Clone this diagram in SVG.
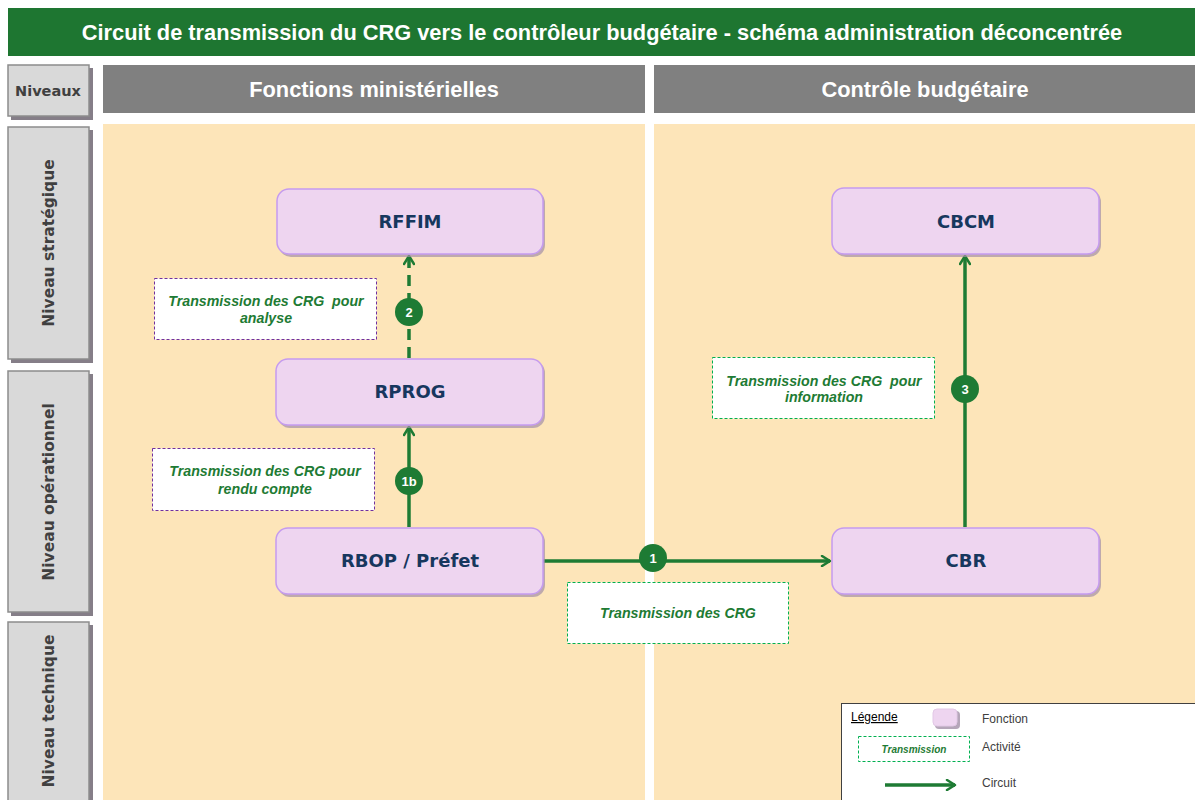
<svg xmlns="http://www.w3.org/2000/svg" width="1195" height="800" viewBox="0 0 1195 800">
  <style>
    .title { font-family: "Liberation Sans", Arial, sans-serif; font-weight: bold; font-size: 21.8px; fill: #ffffff; }
    .head { font-family: "Liberation Sans", Arial, sans-serif; font-weight: bold; font-size: 21.8px; fill: #ffffff; }
    .lvl { font-family: "DejaVu Sans", Verdana, sans-serif; font-weight: bold; font-size: 15.5px; fill: #404040; }
    .lvlbox { fill: #d9d9d9; stroke: #8c8c8c; stroke-width: 1.5; }
    .lvlshadow { fill: #857e88; }
    .node { fill: #eed5f0; stroke: #c59bef; stroke-width: 1.5; }
    .nshadow { fill: #a390a8; opacity: 0.7; }
    .ntext { font-family: "DejaVu Sans", Verdana, sans-serif; font-weight: bold; font-size: 18px; fill: #17375e; }
    .act { fill: #ffffff; stroke-width: 1; stroke-dasharray: 3 2; }
    .act-p { stroke: #7030a0; }
    .act-g { stroke: #00b050; }
    .atext { font-family: "Liberation Sans", Arial, sans-serif; font-weight: bold; font-style: italic; font-size: 14.2px; fill: #1e7b34; white-space: pre; }
    .wire { stroke: #1e7b34; stroke-width: 3.5; fill: none; }
    .dash { stroke-dasharray: 11 7; }
    .badge { fill: #1e7b34; }
    .btext { font-family: "Liberation Sans", Arial, sans-serif; font-weight: bold; font-size: 13px; fill: #ffffff; }
    .leg { font-family: "Liberation Sans", Arial, sans-serif; font-size: 12px; fill: #404040; }
  </style>
  <defs>
    <marker id="chev" viewBox="0 0 12 12" refX="10" refY="6" markerWidth="12" markerHeight="12" markerUnits="userSpaceOnUse" orient="auto">
      <path d="M2,1 L10,6 L2,11" fill="none" stroke="#1e7b34" stroke-width="2.5" stroke-linecap="round" stroke-linejoin="round"/>
    </marker>
  </defs>

  <rect width="1195" height="800" fill="#ffffff"/>

  <!-- title bar -->
  <g id="title">
    <rect x="8" y="8" width="1187" height="48" fill="#1e7631"/>
    <text class="title" x="602" y="40" text-anchor="middle">Circuit de transmission du CRG vers le contrôleur budgétaire - schéma administration déconcentrée</text>
  </g>

  <!-- column headers and lanes -->
  <g id="columns">
    <rect x="103" y="65" width="542" height="48" fill="#808080"/>
    <text class="head" x="374" y="97" text-anchor="middle">Fonctions ministérielles</text>
    <rect x="654" y="65" width="541" height="48" fill="#808080"/>
    <text class="head" x="925" y="97" text-anchor="middle">Contrôle budgétaire</text>
    <rect x="103" y="124" width="542" height="676" fill="#fde5b9"/>
    <rect x="654" y="124" width="541" height="676" fill="#fde5b9"/>
  </g>

  <!-- level labels -->
  <g id="levels">
    <rect class="lvlshadow" x="11" y="68" width="82" height="52"/>
    <rect class="lvlbox" x="8" y="65" width="81" height="51"/>
    <text x="48" y="96" text-anchor="middle" font-family="DejaVu Sans, Verdana, sans-serif" font-weight="bold" font-size="14.5" fill="#404040">Niveaux</text>

    <rect class="lvlshadow" x="11" y="130" width="82" height="233"/>
    <rect class="lvlbox" x="8" y="127" width="81" height="232"/>
    <text class="lvl" transform="translate(54,243) rotate(-90)" text-anchor="middle">Niveau stratégique</text>

    <rect class="lvlshadow" x="11" y="374" width="82" height="242"/>
    <rect class="lvlbox" x="8" y="371" width="81" height="241"/>
    <text class="lvl" transform="translate(54,492) rotate(-90)" text-anchor="middle">Niveau opérationnel</text>

    <rect class="lvlshadow" x="11" y="625" width="82" height="180"/>
    <rect class="lvlbox" x="8" y="622" width="81" height="180"/>
    <text class="lvl" transform="translate(54,711) rotate(-90)" text-anchor="middle">Niveau technique</text>
  </g>

  <!-- connectors -->
  <g id="connectors">
    <line class="wire dash" x1="409" y1="358" x2="409" y2="256" marker-end="url(#chev)"/>
    <line class="wire" x1="409" y1="527" x2="409" y2="427" marker-end="url(#chev)"/>
    <line class="wire" x1="543" y1="561" x2="830" y2="561" marker-end="url(#chev)"/>
    <line class="wire" x1="965" y1="527" x2="965" y2="256" marker-end="url(#chev)"/>
    <circle class="badge" cx="409" cy="312" r="14"/>
    <text class="btext" x="409" y="317" text-anchor="middle">2</text>
    <circle class="badge" cx="409" cy="481" r="14"/>
    <text class="btext" x="409" y="486" text-anchor="middle">1b</text>
    <circle class="badge" cx="653" cy="558" r="14"/>
    <text class="btext" x="653" y="563" text-anchor="middle">1</text>
    <circle class="badge" cx="965" cy="389" r="14"/>
    <text class="btext" x="965" y="394" text-anchor="middle">3</text>
  </g>

  <!-- function nodes -->
  <g id="node-rffim">
    <rect class="nshadow" x="279" y="191" width="266" height="66" rx="12"/>
    <rect class="node" x="277" y="189" width="266" height="65" rx="12"/>
    <text class="ntext" x="410" y="228" text-anchor="middle">RFFIM</text>
  </g>
  <g id="node-rprog">
    <rect class="nshadow" x="278" y="361" width="267" height="67" rx="12"/>
    <rect class="node" x="276" y="359" width="267" height="66" rx="12"/>
    <text class="ntext" x="410" y="398" text-anchor="middle">RPROG</text>
  </g>
  <g id="node-rbop">
    <rect class="nshadow" x="278" y="530" width="267" height="67" rx="12"/>
    <rect class="node" x="276" y="528" width="267" height="66" rx="12"/>
    <text class="ntext" x="410" y="567" text-anchor="middle">RBOP / Préfet</text>
  </g>
  <g id="node-cbcm">
    <rect class="nshadow" x="834" y="190" width="267" height="67" rx="12"/>
    <rect class="node" x="832" y="188" width="267" height="66" rx="12"/>
    <text class="ntext" x="966" y="228" text-anchor="middle">CBCM</text>
  </g>
  <g id="node-cbr">
    <rect class="nshadow" x="834" y="530" width="267" height="67" rx="12"/>
    <rect class="node" x="832" y="528" width="267" height="66" rx="12"/>
    <text class="ntext" x="966" y="567" text-anchor="middle">CBR</text>
  </g>

  <!-- activity labels -->
  <g id="act-analyse">
    <rect class="act act-p" x="154.5" y="278.5" width="222" height="61"/>
    <text class="atext" x="266" y="306" text-anchor="middle">Transmission des CRG  pour</text>
    <text class="atext" x="266" y="323" text-anchor="middle">analyse</text>
  </g>
  <g id="act-rendu">
    <rect class="act act-p" x="152.5" y="448.5" width="222" height="62"/>
    <text class="atext" x="265" y="476" text-anchor="middle">Transmission des CRG pour</text>
    <text class="atext" x="265" y="494" text-anchor="middle">rendu compte</text>
  </g>
  <g id="act-transmission">
    <rect class="act act-g" x="567.5" y="582.5" width="221" height="61"/>
    <text class="atext" x="678" y="618" text-anchor="middle">Transmission des CRG</text>
  </g>
  <g id="act-information">
    <rect class="act act-g" x="712.5" y="357.5" width="222" height="61"/>
    <text class="atext" x="824" y="386" text-anchor="middle">Transmission des CRG  pour</text>
    <text class="atext" x="824" y="402" text-anchor="middle">information</text>
  </g>

  <!-- legend -->
  <g id="legend">
    <rect x="841.5" y="703.5" width="360" height="110" fill="#ffffff" stroke="#404040" stroke-width="1"/>
    <text x="851" y="721" font-family="Liberation Sans, Arial, sans-serif" font-size="12" fill="#000000" text-decoration="underline">Légende</text>
    <rect x="935" y="711" width="25" height="18" rx="4" fill="#a390a8" opacity="0.8"/>
    <rect x="933" y="709" width="24" height="17" rx="4" fill="#eed5f0" stroke="#e2c8e6" stroke-width="1"/>
    <text class="leg" x="982" y="723">Fonction</text>
    <rect class="act act-g" x="858.5" y="736.5" width="111" height="25"/>
    <text x="914" y="753" text-anchor="middle" font-family="Liberation Sans, Arial, sans-serif" font-weight="bold" font-style="italic" font-size="10" fill="#1e7b34">Transmission</text>
    <text class="leg" x="982" y="751">Activité</text>
    <line class="wire" x1="885" y1="785" x2="955" y2="785" marker-end="url(#chev)"/>
    <text class="leg" x="982" y="787">Circuit</text>
  </g>
</svg>
